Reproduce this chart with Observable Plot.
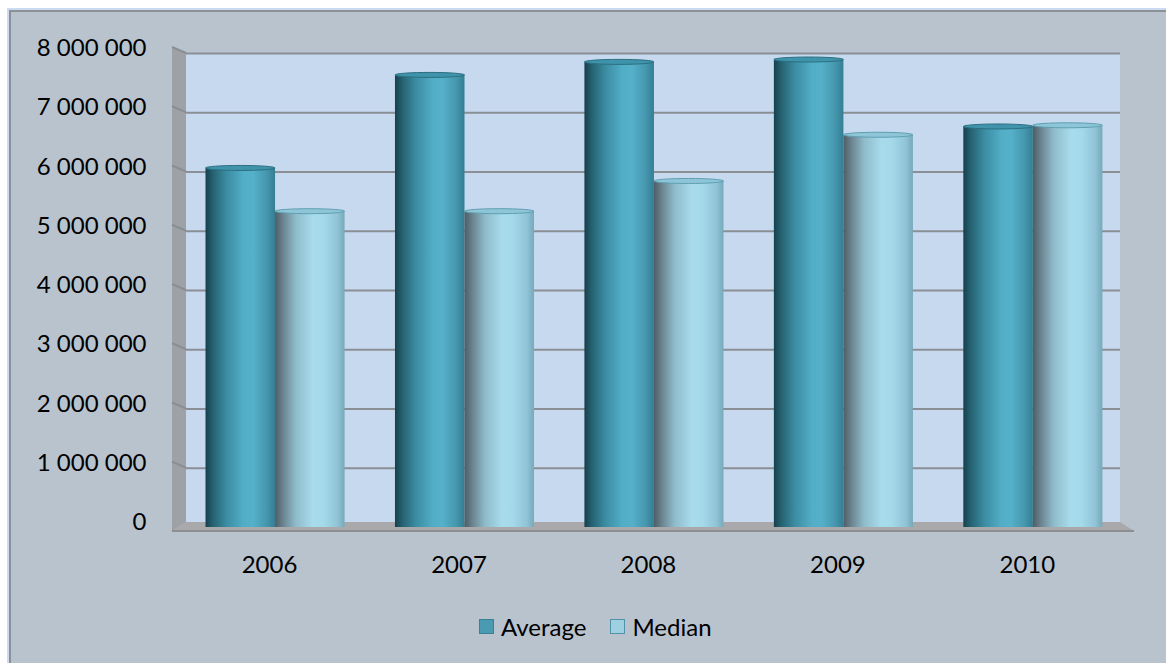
<!DOCTYPE html>
<html>
<head>
<meta charset="utf-8">
<script src="https://cdn.jsdelivr.net/npm/d3@7"></script>
<script src="https://cdn.jsdelivr.net/npm/@observablehq/plot@0.6"></script>
<style>
  html, body { margin: 0; padding: 0; background: #ffffff; width: 1166px; height: 663px; overflow: hidden; }
  #panel { position: absolute; left: 9px; top: 10px; width: 1160px; height: 660px; background: #b8c3ce;
           border-left: 2px solid #8b9197; border-top: 2px solid #8b9197; box-shadow: -2px -2px 0 #cbdcf2; }
  #chart { position: absolute; left: 0; top: 0; }
  #legend { position: absolute; left: 479px; top: 612px; display: flex; align-items: center;
            font-family: Lato, "Open Sans", sans-serif; font-size: 24px; color: #000; }
  .sw { width: 13px; height: 13px; border: 1px solid; margin-right: 7px; }
  .item { display: flex; align-items: center; margin-right: 24px; }
</style>
</head>
<body>
<div id="panel"></div>
<div id="chart"></div>
<script>
const years = [2006, 2007, 2008, 2009, 2010];
const average = [6060000, 7630000, 7850000, 7890000, 6760000];
const median  = [5330000, 5330000, 5840000, 6620000, 6780000];
const seriesNames = ["Average", "Median"];
const yTicks = [0, 1000000, 2000000, 3000000, 4000000, 5000000, 6000000, 7000000, 8000000];

const data = years.flatMap((year, i) => [
  {year, series: "Average", value: average[i]},
  {year, series: "Median", value: median[i]}
]);

const half = 0.367; // half a group width, in years
const fmt = d => d3.format(",")(d).replace(/,/g, " ");

function walls(index, scales, values, dim) {
  const g = d3.create("svg:g");
  const defs = g.append("defs");
  const gA = defs.append("linearGradient").attr("id", "gAvg").attr("x1", 0).attr("x2", 1).attr("y1", 0).attr("y2", 0);
  [[0, "#163f4d"], [0.1, "#25606f"], [0.3, "#3b8ca2"], [0.55, "#52aec7"], [0.68, "#55b1ca"], [0.88, "#4597ae"], [1, "#347e93"]]
    .forEach(([o, c]) => gA.append("stop").attr("offset", o).attr("stop-color", c));
  const gM = defs.append("linearGradient").attr("id", "gMed").attr("x1", 0).attr("x2", 1).attr("y1", 0).attr("y2", 0);
  [[0, "#4e5d66"], [0.12, "#6c8591"], [0.3, "#8fbccb"], [0.55, "#a8dcec"], [0.7, "#a4d9ea"], [0.9, "#8fc3d5"], [1, "#76a9ba"]]
    .forEach(([o, c]) => gM.append("stop").attr("offset", o).attr("stop-color", c));

  const x0 = dim.marginLeft, x1 = dim.width - dim.marginRight;
  const yT = scales.y(yTicks[yTicks.length - 1]), yB = scales.y(0);
  const depth = 14, rise = 6;
  g.append("rect").attr("x", x0).attr("y", yT).attr("width", x1 - x0).attr("height", yB - 5 - yT).attr("fill", "#c6d9ef");
  g.append("polygon").attr("points", `${x0 - depth},${yT - rise} ${x0},${yT} ${x0},${yB - 5} ${x0 - depth},${yB + 4}`).attr("fill", "#9ea1a6");
  g.append("polygon").attr("points", `${x0},${yB - 5} ${x1},${yB - 5} ${x1 + depth},${yB + 4} ${x0 - depth},${yB + 4}`).attr("fill", "#a9a9ab");
  g.append("line").attr("x1", x0 - depth).attr("x2", x1 + depth).attr("y1", yB + 4).attr("y2", yB + 4).attr("stroke", "#8d8e90").attr("stroke-width", 2);
  yTicks.filter(t => t > 0).forEach(t => {
    const y = scales.y(t);
    g.append("line").attr("x1", x0 - depth).attr("y1", y - rise).attr("x2", x0).attr("y2", y)
      .attr("stroke", "#8a8f95").attr("stroke-width", 2);
  });
  return g.node();
}

function caps(index, scales) {
  const g = d3.create("svg:g");
  data.forEach(d => {
    const xa = d.series === "Average" ? scales.x(d.year - half) : scales.x(d.year);
    const xb = d.series === "Average" ? scales.x(d.year) : scales.x(d.year + half);
    g.append("ellipse").attr("cx", (xa + xb) / 2).attr("cy", scales.y(d.value)).attr("rx", (xb - xa) / 2).attr("ry", 2.5)
      .attr("fill", d.series === "Average" ? "#3f93aa" : "#8fc6d7")
      .attr("stroke", d.series === "Average" ? "#2b6f81" : "#5e9fb2").attr("stroke-width", 1);
  });
  return g.node();
}

const chart = Plot.plot({
  width: 1166,
  height: 600,
  marginLeft: 186,
  marginRight: 46,
  marginTop: 53,
  marginBottom: 73,
  style: {background: "transparent", fontFamily: "Lato, 'Open Sans', sans-serif", fontSize: "24px", color: "#000", overflow: "visible"},
  x: {domain: [2005.53, 2010.46], axis: null, label: null},
  y: {domain: [0, 8000000], axis: null, label: null},
  marks: [
    walls,
    Plot.ruleY(yTicks.filter(t => t > 0), {stroke: "#8a8f95", strokeWidth: 2, strokeOpacity: 1}),
    Plot.rectY(data.filter(d => d.series === "Average"), {x1: d => d.year - half, x2: d => d.year, y: "value", fill: "url(#gAvg)"}),
    Plot.rectY(data.filter(d => d.series === "Median"), {x1: d => d.year, x2: d => d.year + half, y: "value", fill: "url(#gMed)"}),
    caps,
    Plot.axisY(yTicks, {anchor: "left", label: null, tickSize: 0, tickPadding: 40, tickFormat: fmt, dy: -5, fontSize: 24, fill: "#000"}),
    Plot.axisX(years, {anchor: "bottom", label: null, tickSize: 0, tickPadding: 28, tickFormat: d => String(d), dx: -6, fontSize: 24, fill: "#000"})
  ]
});
document.getElementById("chart").appendChild(chart);

const legend = document.createElement("div");
legend.id = "legend";
const swatch = {Average: ["#4a9bb2", "#3a8196"], Median: ["#9fd0e1", "#4f93a8"]};
seriesNames.forEach(name => {
  const item = document.createElement("div");
  item.className = "item";
  const s = document.createElement("div");
  s.className = "sw";
  s.style.background = swatch[name][0];
  s.style.borderColor = swatch[name][1];
  const t = document.createElement("span");
  t.textContent = name;
  item.appendChild(s);
  item.appendChild(t);
  legend.appendChild(item);
});
document.body.appendChild(legend);
</script>
</body>
</html>
